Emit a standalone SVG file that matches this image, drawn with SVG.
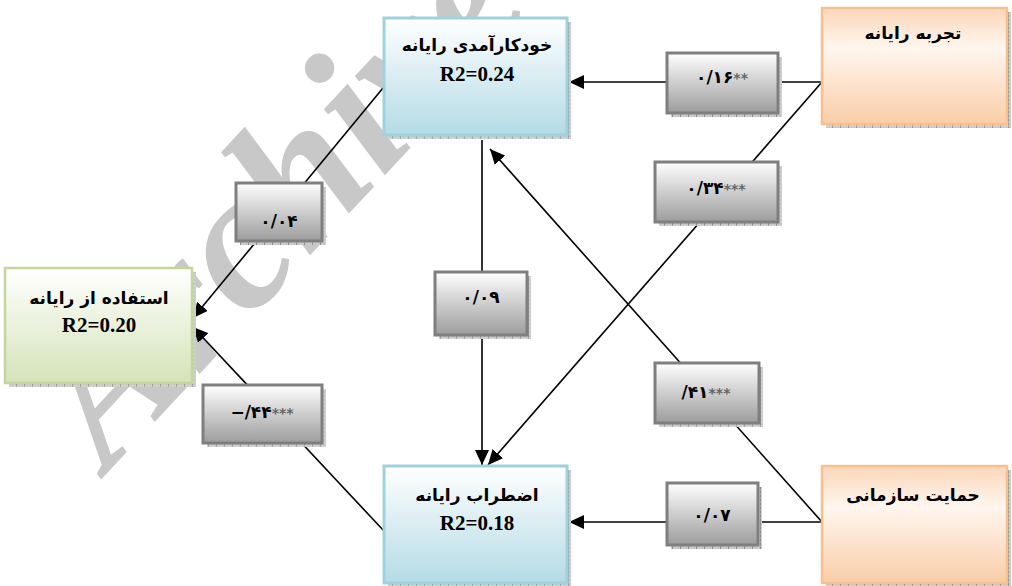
<svg xmlns="http://www.w3.org/2000/svg" width="1012" height="586" viewBox="0 0 1012 586">
<defs>
<style>
.fa{font-family:"DejaVu Sans",sans-serif;font-weight:bold;font-size:17px;fill:#000;text-anchor:middle}
.r2{font-family:"Liberation Serif",serif;font-weight:bold;font-size:21px;fill:#000;text-anchor:middle}
.lb{font-family:"DejaVu Sans",sans-serif;font-weight:bold;font-size:17px;fill:#000}
.st{font-size:14px;fill:#666}
.blue{fill:url(#gBlue);stroke:#9fd2df;stroke-width:3}
.org{fill:url(#gOrg);stroke:#f9c08f;stroke-width:2.5}
.grn{fill:url(#gGrn);stroke:#c3d69b;stroke-width:2.5}
.lbox{fill:url(#gGrey);stroke:#7f7f7f;stroke-width:3}
.sh{fill:url(#hatch)}
.arr{stroke:#000;stroke-width:1.6;fill:none;marker-end:url(#ah)}
</style>
<linearGradient id="gBlue" x1="0" y1="0" x2="0" y2="1"><stop offset="0" stop-color="#ffffff"/><stop offset="1" stop-color="#b4dbe5"/></linearGradient>
<linearGradient id="gOrg" x1="0" y1="0" x2="0" y2="1"><stop offset="0" stop-color="#fbd6b8"/><stop offset="0.35" stop-color="#fff6ef"/><stop offset="1" stop-color="#f9cda7"/></linearGradient>
<linearGradient id="gGrn" x1="0" y1="0" x2="0" y2="1"><stop offset="0" stop-color="#ffffff"/><stop offset="1" stop-color="#d5e3b8"/></linearGradient>
<linearGradient id="gGrey" x1="0" y1="0" x2="0" y2="1"><stop offset="0" stop-color="#ffffff"/><stop offset="1" stop-color="#9c9c9c"/></linearGradient>
<pattern id="hatch" width="8" height="4" patternUnits="userSpaceOnUse"><rect width="8" height="4" fill="#c9c9c9"/><line x1="0.5" y1="0" x2="0.5" y2="4" stroke="#8c8c8c" stroke-width="1"/><line x1="0" y1="2" x2="8" y2="2" stroke="#e0e0e0" stroke-width="0.6"/></pattern>
<marker id="ah" markerUnits="userSpaceOnUse" markerWidth="16" markerHeight="14" refX="15" refY="7" orient="auto"><path d="M0,0 L15,7 L0,14 Z" fill="#000"/></marker>
</defs>

<text id="watermark" transform="translate(108,472) rotate(-47)" font-family="Liberation Serif,serif" font-style="italic" font-weight="bold" font-size="195" fill="#c8c8c8">Archive</text>

<g id="connectors">
<line class="arr" x1="822" y1="82" x2="569" y2="82"/>
<line class="arr" x1="822" y1="82" x2="488" y2="465"/>
<line class="arr" x1="822" y1="522" x2="490" y2="149"/>
<line class="arr" x1="822" y1="522" x2="569" y2="522"/>
<line class="arr" x1="482" y1="140" x2="482" y2="465"/>
<line class="arr" x1="383" y1="88" x2="193" y2="318"/>
<line class="arr" x1="384" y1="531" x2="193" y2="327"/>
</g>

<g id="node-selfefficacy">
<rect class="sh" x="388" y="22" width="183" height="117"/>
<rect class="blue" x="384" y="18" width="183" height="117"/>
<text class="fa" x="477" y="51">خودکارآمدی رایانه</text>
<text class="r2" x="477" y="81">R2=0.24</text>
</g>
<g id="node-experience">
<rect class="sh" x="826" y="12" width="185" height="116"/>
<rect class="org" x="822" y="8" width="185" height="116"/>
<text class="fa" x="913" y="39">تجربه رایانه</text>
</g>
<g id="node-usage">
<rect class="sh" x="9" y="272" width="187" height="115"/>
<rect class="grn" x="5" y="268" width="187" height="115"/>
<text class="fa" x="99" y="304">استفاده از رایانه</text>
<text class="r2" x="99" y="332">R2=0.20</text>
</g>
<g id="node-anxiety">
<rect class="sh" x="388" y="470" width="183" height="117"/>
<rect class="blue" x="384" y="466" width="183" height="117"/>
<text class="fa" x="477" y="501">اضطراب رایانه</text>
<text class="r2" x="477" y="530">R2=0.18</text>
</g>
<g id="node-support">
<rect class="sh" x="826" y="470" width="185" height="117"/>
<rect class="org" x="822" y="466" width="185" height="117"/>
<text class="fa" x="913" y="501">حمایت سازمانی</text>
</g>

<g id="label-016">
<rect class="sh" x="671" y="57" width="111" height="60"/>
<rect class="lbox" x="667" y="53" width="111" height="60"/>
<text class="lb" x="722" y="83" text-anchor="middle">۰/۱۶<tspan class="st">**</tspan></text>
</g>
<g id="label-034">
<rect class="sh" x="659" y="166" width="123" height="60"/>
<rect class="lbox" x="655" y="162" width="123" height="60"/>
<text class="lb" x="716" y="194" text-anchor="middle">۰/۳۴<tspan class="st">***</tspan></text>
</g>
<g id="label-004">
<rect class="sh" x="240" y="187" width="86" height="58"/>
<rect class="lbox" x="236" y="183" width="86" height="58"/>
<text class="lb" x="279" y="227" text-anchor="middle">۰/۰۴</text>
</g>
<g id="label-044">
<rect class="sh" x="207" y="389" width="119" height="58"/>
<rect class="lbox" x="203" y="385" width="119" height="58"/>
<text class="lb" x="262" y="418" text-anchor="middle">−/۴۴<tspan class="st">***</tspan></text>
</g>
<g id="label-009">
<rect class="sh" x="439" y="276" width="92" height="63"/>
<rect class="lbox" x="435" y="272" width="92" height="63"/>
<text class="lb" x="481" y="303" text-anchor="middle">۰/۰۹</text>
</g>
<g id="label-041">
<rect class="sh" x="659" y="367" width="104" height="60"/>
<rect class="lbox" x="655" y="363" width="104" height="60"/>
<text class="lb" x="706" y="398" text-anchor="middle">/۴۱<tspan class="st">***</tspan></text>
</g>
<g id="label-007">
<rect class="sh" x="671" y="487" width="91" height="62"/>
<rect class="lbox" x="667" y="483" width="91" height="62"/>
<text class="lb" x="712" y="521" text-anchor="middle">۰/۰۷</text>
</g>
</svg>
